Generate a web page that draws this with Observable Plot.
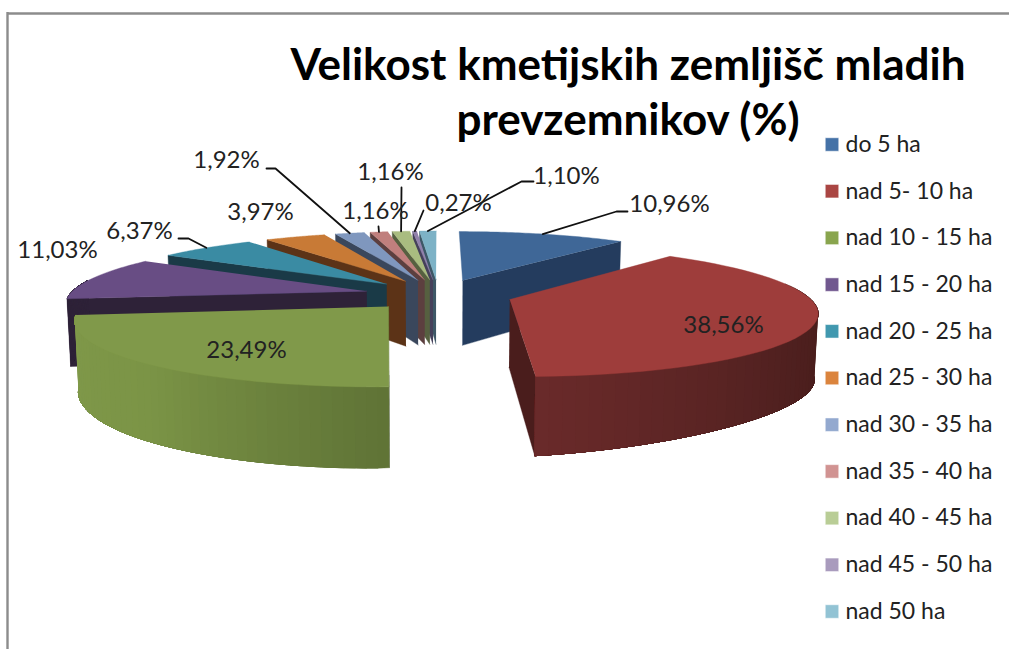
<!DOCTYPE html>
<html>
<head>
<meta charset="utf-8">
<style>html,body{margin:0;padding:0;background:#fff}svg{display:block}</style>
<script src="https://cdn.jsdelivr.net/npm/d3@7"></script>
<script src="https://cdn.jsdelivr.net/npm/@observablehq/plot@0.6"></script>
</head>
<body>
<script>
// Data
const categories = ["do 5 ha","nad 5- 10 ha","nad 10 - 15 ha","nad 15 - 20 ha","nad 20 - 25 ha","nad 25 - 30 ha","nad 30 - 35 ha","nad 35 - 40 ha","nad 40 - 45 ha","nad 45 - 50 ha","nad 50 ha"];
const values = [10.96,38.56,23.49,11.03,6.37,3.97,1.92,1.16,1.16,0.27,1.10];
const valueLabels = ["10,96%","38,56%","23,49%","11,03%","6,37%","3,97%","1,92%","1,16%","1,16%","0,27%","1,10%"];
const titleLines = ["Velikost kmetijskih zemljišč mladih","prevzemnikov (%)"];

// Styles
const legendColors = ["#4572A7","#AA4643","#89A54E","#71588F","#4198AF","#DB843D","#93A9CF","#D19392","#B9CD96","#A99BBD","#92C3D4"];
const topColors = ["#3F6797","#9E3D3B","#80994A","#684D84","#3A8BA3","#C87A36","#7F97BE","#C07F7D","#A9BC80","#9181AB","#7DB2C6"];
const wallColors = ["#243C5E","#4A1D1C","#3A4A22","#2E2238","#1A3A47","#5C3317","#3A475C","#5C3F3F","#566040","#45405A","#3D5766"];
const rimStops = {1:["#421A18","#4F201F","#6A2A2A"], 2:["#5F7336","#7B9446","#80994A"]};

// Layout: label centres and leader elbows
const labelAt = [[669,204],[723,325],[246,350],[57,250],[139,231],[260,212],[226,160],[375,211],[390,172],[458,203],[566,176]];
const leaderVia = [[[616,211],[627,211]],null,null,null,[[188,238],[178,238]],null,[[275,168],[266,168]],[[378,226]],[[401,187]],[[423,210]],[[521,181],[533,181]]];
const paintOrder = [10,9,8,7,6,5,4,3,0,1,2];

// Perspective pie geometry
const vx=438, vy=-65, A=359, B=297, k=0.172, explode=0.25;
function project(U,V,low,trim=0){
  const s=1/(1-k*V);
  let x=vx+B*U*s, y=vy+A*s;
  if(low){ y+=11+56*s-trim; x-=(x-vx)*0.01; }
  return [x,y];
}
const total=d3.sum(values);
let cum=0;
const slices=values.map((v,i)=>{
  const a0=cum/total*2*Math.PI; cum+=v; const a1=cum/total*2*Math.PI;
  const mid=(a0+a1)/2;
  return {i,a0,a1,mid,ox:explode*Math.sin(mid),oz:-explode*Math.cos(mid)};
});
const rimTrim=a=>(a>Math.PI/2&&a<Math.PI)?9*Math.sin(2*(a-Math.PI/2)):0;
const rimPt=(s,a,low)=>project(s.ox+Math.sin(a),s.oz-Math.cos(a),low,rimTrim(a));
const apex=(s,low)=>project(s.ox,s.oz,low);

const polys=[];
let pid=0;
function addPoly(points,color,stroke){const id=pid++;points.forEach(p=>polys.push({id,x:p[0],y:p[1],color,stroke:stroke||color}));}
const STEPS=48;
for(const i of paintOrder){
  const s=slices[i];
  const rightSide=s.mid<Math.PI;
  // visible cut wall
  const ca=rightSide?s.a1:s.a0;
  addPoly([apex(s,false),rimPt(s,ca,false),rimPt(s,ca,true),apex(s,true)],wallColors[i]);
  // outer rim, front-facing part only; each strip runs on to the end so no seams show
  const r0=Math.max(s.a0,75*Math.PI/180), r1=Math.min(s.a1,280*Math.PI/180);
  if(r1>r0){
    const interp=rimStops[i]?d3.piecewise(d3.interpolateRgb,rimStops[i]):()=>wallColors[i];
    for(let j=0;j<STEPS;j++){
      const col=interp((j+.5)/STEPS), pts=[], back=[];
      for(let q=j;q<=STEPS;q++){
        const b=r0+(r1-r0)*q/STEPS;
        pts.push(rimPt(s,b,false)); back.unshift(rimPt(s,b,true));
      }
      addPoly([...pts,...back],col);
    }
  }
  // top face
  const top=[apex(s,false)];
  for(let j=0;j<=STEPS;j++) top.push(rimPt(s,s.a0+(s.a1-s.a0)*j/STEPS,false));
  addPoly(top,topColors[i]);
}

const leaders=[];
slices.forEach(s=>{
  if(!leaderVia[s.i]) return;
  const start=rimPt(s,s.mid,false);
  [start,...leaderVia[s.i]].forEach(p=>leaders.push({id:s.i,x:p[0],y:p[1]}));
});
const labels=valueLabels.map((t,i)=>({t,x:labelAt[i][0],y:labelAt[i][1]}));
const legendRows=categories.map((c,i)=>({c,color:legendColors[i],y:144+i*46.7}));
const font="Lato, Carlito, sans-serif";

const chart=Plot.plot({
  width:1009,height:649,margin:0,
  x:{domain:[0,1009],range:[0,1009],axis:null},
  y:{domain:[0,649],range:[0,649],axis:null},
  color:{type:"identity"},
  style:{background:"#fff",fontFamily:font},
  marks:[
    Plot.ruleY([13],{x1:7,x2:1009,stroke:"#8c8c8c",strokeWidth:2.4}),
    Plot.ruleX([7],{y1:12,y2:649,stroke:"#8c8c8c",strokeWidth:2.4}),
    Plot.line(polys,{x:"x",y:"y",z:"id",fill:"color",stroke:"stroke",strokeWidth:0.4,curve:"linear"}),
    Plot.line(leaders,{x:"x",y:"y",z:"id",stroke:"#111",strokeWidth:1.8,curve:"linear"}),
    Plot.text(labels,{x:"x",y:"y",text:"t",fontSize:24,fill:"#222",fontFamily:font}),
    Plot.text(titleLines,{x:()=>627.5,y:(d,i)=>[65,120][i],text:d=>d,fontSize:44,fontWeight:700,fill:"#000",fontFamily:font}),
    Plot.dot(legendRows,{x:()=>831.5,y:"y",symbol:"square",r:7.6,fill:"color",stroke:"#fff",strokeWidth:0.5}),
    Plot.text(legendRows,{x:()=>845,y:"y",text:"c",textAnchor:"start",fontSize:23,fill:"#222",fontFamily:font})
  ]
});
document.body.appendChild(chart);
</script>
</body>
</html>
